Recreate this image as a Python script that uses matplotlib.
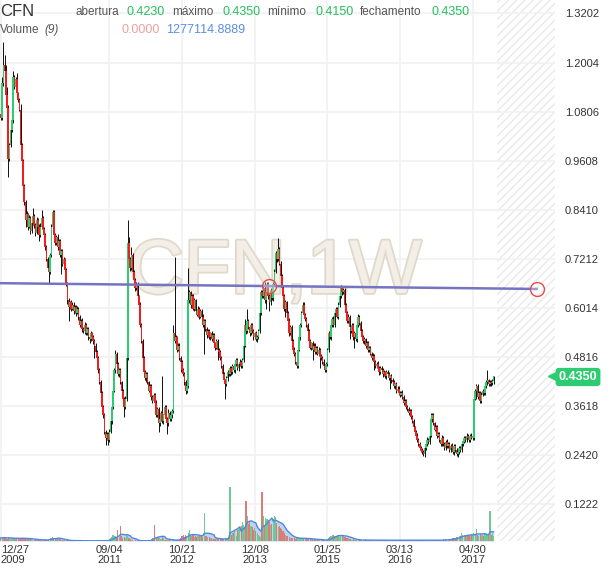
import numpy as np
import pandas as pd
import matplotlib
matplotlib.use('Agg')
import matplotlib.pyplot as plt
import matplotlib.patheffects as pe

plt.rcParams['font.family'] = ['Liberation Sans', 'DejaVu Sans']
plt.rcParams['hatch.color'] = '#e9e9e9'
plt.rcParams['hatch.linewidth'] = 1.0

# weekly bars from 2009-12-27, prices in thousandths
first_open = 1075
closes = [
    1065, 1150, 1195, 1180, 1120, 1090, 965, 1000, 1035, 1060, 1165, 1140, 1160, 1125, 1110, 1085, 1000, 960, 900, 860,
    815, 830, 800, 820, 790, 810, 825, 805, 785, 815, 800, 780, 800, 820, 795, 780, 750, 720, 700, 690,
    730, 800, 835, 780, 760, 775, 750, 765, 730, 740, 710, 720, 695, 660, 620, 605, 615, 600, 610, 595,
    605, 590, 600, 580, 560, 570, 550, 545, 560, 540, 550, 530, 525, 540, 530, 520, 510, 495, 480, 450,
    420, 395, 360, 340, 300, 285, 295, 280, 300, 325, 360, 400, 450, 490, 465, 440, 450, 420, 400, 380,
    360, 380, 480, 760, 720, 700, 730, 690, 670, 650, 660, 630, 610, 560, 520, 480, 445, 430, 440, 420,
    400, 410, 385, 375, 390, 370, 340, 355, 320, 330, 345, 325, 340, 360, 330, 320, 345, 330, 340, 350,
    540, 520, 530, 500, 510, 480, 470, 450, 440, 420, 400, 410, 620, 640, 610, 630, 600, 620, 595, 585,
    600, 580, 595, 580, 560, 570, 550, 535, 545, 530, 540, 525, 535, 515, 505, 520, 500, 495, 480, 460,
    440, 425, 415, 430, 445, 440, 455, 445, 460, 450, 465, 475, 455, 465, 470, 460, 475, 510, 560, 545,
    570, 555, 540, 560, 545, 530, 540, 525, 530, 545, 590, 640, 630, 650, 620, 640, 660, 630, 615, 645,
    625, 660, 690, 735, 720, 745, 710, 680, 650, 630, 600, 615, 590, 570, 540, 555, 520, 500, 490, 470,
    460, 500, 530, 560, 590, 610, 585, 575, 560, 545, 520, 505, 515, 500, 510, 495, 505, 490, 500, 485,
    480, 470, 460, 450, 465, 500, 540, 530, 560, 575, 560, 590, 600, 580, 610, 630, 650, 640, 645, 610,
    590, 570, 580, 555, 545, 560, 530, 540, 525, 560, 580, 565, 545, 530, 520, 525, 510, 515, 500, 505,
    490, 480, 485, 470, 460, 465, 455, 445, 455, 450, 440, 445, 435, 445, 440, 430, 435, 425, 420, 410,
    415, 400, 405, 395, 390, 395, 385, 370, 375, 360, 355, 345, 350, 335, 325, 310, 300, 290, 280, 270,
    260, 255, 250, 245, 260, 270, 280, 275, 290, 330, 340, 320, 305, 310, 290, 295, 280, 270, 285, 270,
    260, 275, 265, 270, 255, 265, 260, 250, 265, 255, 245, 250, 260, 255, 270, 275, 285, 280, 290, 285,
    280, 290, 285, 285, 380, 400, 410, 385, 395, 375, 390, 400, 395, 410, 420, 425, 415, 420, 418, 423,
    435,
]
# upper / lower shadow beyond the body, thousandths
wick_up = [
    20, 15, 55, 25, 15, 20, 6, 4, 6, 5, 15, 5, 6, 15, 4, 5, 15, 5, 4, 5,
    5, 8, 4, 8, 5, 8, 20, 5, 4, 8, 5, 6, 8, 20, 5, 4, 5, 6, 5, 4,
    5, 6, 5, 5, 4, 5, 6, 5, 4, 5, 6, 5, 4, 5, 6, 5, 4, 5, 6, 5,
    4, 5, 6, 5, 4, 5, 6, 5, 8, 5, 4, 5, 6, 5, 4, 5, 6, 5, 4, 5,
    6, 5, 4, 5, 6, 5, 4, 5, 6, 5, 4, 5, 6, 10, 4, 5, 6, 5, 4, 5,
    5, 6, 5, 56, 15, 5, 20, 5, 4, 5, 6, 5, 4, 5, 6, 5, 4, 5, 6, 5,
    4, 5, 6, 5, 4, 5, 6, 5, 4, 5, 6, 90, 4, 5, 6, 5, 10, 5, 4, 5,
    20, 187, 5, 4, 5, 6, 5, 4, 5, 6, 5, 4, 80, 5, 4, 5, 6, 5, 4, 5,
    6, 5, 4, 5, 6, 5, 4, 5, 6, 5, 4, 5, 6, 5, 4, 5, 6, 5, 4, 5,
    6, 5, 4, 5, 6, 5, 4, 5, 6, 5, 10, 5, 4, 5, 6, 5, 4, 5, 15, 5,
    30, 5, 4, 5, 6, 5, 4, 5, 6, 5, 4, 5, 6, 5, 15, 5, 4, 5, 6, 5,
    4, 5, 6, 5, 4, 27, 6, 5, 4, 5, 6, 5, 4, 5, 6, 5, 4, 5, 6, 5,
    4, 5, 6, 5, 4, 5, 6, 5, 4, 5, 6, 5, 4, 5, 6, 5, 4, 5, 6, 5,
    4, 5, 6, 5, 4, 5, 6, 5, 4, 5, 6, 5, 4, 5, 6, 5, 8, 5, 6, 5,
    4, 5, 6, 5, 4, 5, 6, 5, 4, 20, 6, 5, 4, 5, 6, 5, 4, 5, 6, 5,
    4, 5, 6, 5, 4, 5, 6, 5, 4, 5, 6, 5, 4, 5, 6, 5, 4, 5, 6, 5,
    4, 5, 6, 5, 4, 5, 6, 5, 4, 5, 6, 5, 4, 5, 6, 5, 4, 5, 6, 5,
    4, 5, 6, 5, 4, 5, 6, 5, 4, 15, 5, 5, 4, 5, 6, 5, 4, 5, 6, 5,
    4, 5, 6, 5, 4, 5, 6, 5, 4, 5, 6, 5, 4, 5, 6, 5, 4, 5, 6, 5,
    4, 5, 6, 5, 5, 5, 5, 5, 4, 5, 6, 5, 4, 5, 6, 25, 4, 5, 6, 5,
    0,
]
wick_dn = [
    5, 4, 6, 8, 5, 4, 45, 6, 5, 4, 6, 5, 4, 6, 5, 4, 6, 5, 8, 8,
    15, 5, 8, 4, 8, 6, 5, 8, 8, 4, 8, 15, 5, 6, 8, 15, 8, 5, 4, 30,
    5, 4, 6, 5, 4, 6, 8, 5, 4, 45, 6, 5, 8, 4, 8, 35, 5, 6, 4, 8,
    5, 8, 4, 8, 6, 5, 8, 4, 6, 5, 4, 6, 8, 5, 4, 6, 30, 5, 4, 6,
    5, 4, 6, 8, 5, 17, 6, 12, 5, 4, 6, 5, 4, 6, 5, 4, 6, 5, 4, 6,
    25, 4, 6, 5, 4, 8, 6, 5, 4, 6, 5, 4, 6, 5, 4, 6, 5, 4, 8, 5,
    4, 6, 8, 5, 4, 6, 5, 4, 20, 6, 5, 4, 6, 5, 4, 25, 6, 5, 4, 6,
    5, 4, 6, 5, 4, 6, 25, 5, 4, 6, 8, 5, 4, 6, 8, 5, 4, 6, 5, 4,
    6, 5, 4, 6, 5, 70, 4, 6, 5, 4, 6, 5, 4, 6, 5, 4, 25, 6, 5, 4,
    6, 5, 35, 4, 6, 5, 4, 6, 5, 4, 6, 5, 4, 6, 5, 4, 6, 5, 4, 6,
    5, 4, 6, 5, 4, 6, 5, 4, 6, 5, 4, 6, 5, 4, 6, 20, 4, 6, 20, 5,
    4, 6, 5, 4, 6, 5, 4, 6, 5, 4, 6, 20, 5, 4, 6, 5, 4, 6, 5, 4,
    6, 5, 4, 6, 5, 4, 6, 5, 4, 6, 5, 4, 6, 25, 4, 6, 5, 4, 6, 30,
    5, 4, 6, 5, 4, 6, 5, 4, 6, 5, 4, 6, 5, 4, 6, 5, 4, 6, 5, 4,
    6, 5, 4, 30, 5, 4, 6, 25, 4, 6, 5, 4, 6, 5, 4, 6, 5, 4, 6, 5,
    4, 6, 5, 20, 6, 5, 4, 6, 5, 4, 6, 5, 4, 6, 5, 4, 25, 6, 5, 4,
    6, 5, 4, 6, 5, 4, 6, 5, 4, 6, 5, 4, 6, 5, 4, 6, 5, 4, 6, 5,
    4, 6, 5, 4, 6, 5, 4, 6, 5, 4, 6, 5, 4, 6, 5, 4, 6, 5, 4, 6,
    5, 4, 6, 5, 4, 6, 5, 4, 6, 5, 4, 6, 5, 4, 6, 5, 4, 6, 5, 4,
    6, 5, 4, 6, 5, 4, 20, 5, 4, 6, 5, 4, 6, 5, 4, 6, 5, 4, 6, 5,
    8,
]
# relative weekly volume
volume = [
    6, 5, 8, 6, 5, 4, 7, 5, 4, 5, 6, 5, 4, 5, 6, 4, 5, 6, 5, 4,
    4, 5, 3, 4, 5, 3, 2, 2, 3, 2, 2, 1, 2, 2, 1, 2, 3, 2, 2, 4,
    5, 6, 8, 5, 4, 5, 6, 4, 3, 2, 2, 1, 1, 1, 1, 1, 0, 1, 1, 0,
    1, 0, 1, 1, 0, 1, 0, 0, 1, 0, 1, 0, 0, 1, 0, 1, 0, 0, 1, 0,
    1, 0, 1, 0, 1, 0, 2, 1, 3, 6, 8, 12, 10, 9, 7, 20, 8, 28, 10, 6,
    8, 5, 12, 9, 5, 3, 1, 1, 0, 1, 0, 1, 0, 1, 0, 1, 0, 1, 0, 1,
    0, 1, 3, 6, 5, 30, 8, 7, 6, 5, 4, 7, 5, 2, 1, 2, 1, 2, 1, 2,
    3, 2, 2, 1, 2, 3, 6, 9, 11, 8, 12, 10, 14, 20, 11, 9, 13, 8, 10, 7,
    9, 11, 10, 12, 8, 52, 9, 10, 7, 8, 6, 5, 4, 3, 4, 5, 3, 4, 5, 3,
    4, 3, 5, 4, 6, 8, 100, 12, 14, 15, 18, 10, 20, 22, 25, 28, 35, 30, 26, 74,
    46, 32, 35, 28, 25, 20, 24, 18, 15, 12, 10, 8, 90, 46, 30, 42, 40, 38, 35, 30,
    32, 40, 46, 45, 33, 25, 28, 24, 22, 18, 14, 12, 10, 9, 8, 6, 5, 6, 5, 4,
    5, 6, 5, 4, 6, 5, 4, 5, 3, 4, 5, 3, 4, 3, 2, 3, 2, 3, 2, 2,
    2, 1, 2, 1, 2, 3, 5, 8, 10, 12, 11, 10, 9, 12, 10, 8, 9, 11, 10, 7,
    8, 6, 5, 4, 3, 2, 3, 2, 2, 1, 2, 2, 1, 2, 1, 2, 3, 1, 2, 1,
    2, 1, 2, 1, 2, 2, 1, 2, 1, 2, 1, 2, 1, 2, 1, 1, 2, 1, 2, 1,
    2, 1, 2, 1, 1, 2, 1, 2, 1, 1, 2, 1, 1, 2, 1, 2, 1, 1, 2, 1,
    1, 2, 1, 1, 2, 1, 1, 2, 1, 1, 2, 1, 1, 2, 1, 1, 2, 1, 2, 3,
    2, 3, 2, 3, 4, 3, 4, 5, 6, 5, 7, 8, 9, 10, 14, 11, 12, 10, 9, 11,
    12, 10, 13, 12, 15, 11, 22, 12, 10, 13, 11, 12, 10, 14, 12, 11, 13, 56, 12, 14,
    10,
]

price_ticks = [1.3202, 1.2004, 1.0806, 0.9608, 0.8410, 0.7212, 0.6014, 0.4816, 0.3618, 0.2420, 0.1222]
tick_dates = ['2009-12-27', '2011-09-04', '2012-10-21', '2013-12-08', '2015-01-25', '2016-03-13', '2017-04-30']
tick_labels = ['12/27\n2009', '09/04\n2011', '10/21\n2012', '12/08\n2013', '01/25\n2015', '03/13\n2016', '04/30\n2017']

# trend line anchors (bar index, price)
trend_bars = [218, 435]
trend_prices = [0.655, 0.648]

c = np.array(closes) / 1000
o = np.r_[first_open / 1000, c[:-1]]
hi = np.maximum(o, c) + np.array(wick_up) / 1000
lo = np.minimum(o, c) - np.array(wick_dn) / 1000
n = len(c)
x = np.arange(n)
dates = pd.date_range('2009-12-27', periods=n, freq='W-SUN')
tick_idx = [dates.get_loc(pd.Timestamp(d)) for d in tick_dates]

GREEN = '#2ecc71'
RED = '#f21d1d'
up = c >= o

fig = plt.figure(figsize=(6.1, 5.68), dpi=100)
rect = [0, 27 / 568, 555 / 610, 541 / 568]
ax = fig.add_axes(rect)
xl = (-0.7, 449.8)
ax.set_xlim(*xl)
ax.set_ylim(0.033, 1.353)
for s in ax.spines.values():
    s.set_visible(False)

ax.set_yticks(price_ticks)
ax.set_yticklabels(['%.4f' % p for p in price_ticks])
ax.yaxis.tick_right()
ax.set_xticks(tick_idx)
ax.set_xticklabels(tick_labels, linespacing=1.0)
ax.get_xticklabels()[0].set_ha('left')
ax.tick_params(length=0, labelsize=8, labelcolor='#333333')
ax.tick_params(axis='y', pad=7)
ax.tick_params(axis='x', pad=3)
ax.grid(True, color='#f1f1f1', lw=1.2, zorder=0)
ax.set_axisbelow(True)

# future area
ax.axvspan(402.5, xl[1], facecolor='white', edgecolor='#e9e9e9', hatch='////', lw=0, zorder=0.5)

# watermark
ax.text(222.6, 0.638, 'CFN,1W', fontsize=55, ha='center', va='baseline',
        color='#f3efe8', zorder=1,
        path_effects=[pe.withStroke(linewidth=2.5, foreground='#e0d8c8')])

# candles
ax.vlines(x, lo, hi, color='black', lw=0.65, zorder=2)
body = np.maximum(np.abs(c - o), 0.003)
ax.bar(x, body, bottom=np.minimum(o, c), width=1.25,
       color=np.where(up, GREEN, RED), lw=0, zorder=3)

# trend line with anchors
slope = (trend_prices[1] - trend_prices[0]) / (trend_bars[1] - trend_bars[0])
tx = np.array([xl[0], trend_bars[1]])
ax.plot(tx, trend_prices[0] + slope * (tx - trend_bars[0]), color='#7474c2', lw=1.8, zorder=5)
ax.plot(trend_bars, trend_prices, 'o', mfc=(1, 1, 1, 0.3), mec='#e84a4a', ms=10, mew=1, zorder=6)

# volume overlay
axv = fig.add_axes(rect)
axv.set_xlim(*xl)
axv.set_ylim(0, 1000)
axv.axis('off')
axv.patch.set_visible(False)
vol = np.array(volume, dtype=float)
ma = pd.Series(vol).rolling(9, min_periods=1).mean()
axv.fill_between(x, 0, ma, color='#aac6f0', alpha=0.75, lw=0, zorder=1)
axv.plot(x, ma, color='#4d88e0', lw=1, zorder=3)
axv.bar(x, vol, width=0.9, color=np.where(up, '#70c98f', '#e07a7a'), lw=0, zorder=2)

# last price tag
ax.plot([447.3], [c[-1]], marker='<', color=GREEN, ms=6, clip_on=False, zorder=7)
fig.text(578 / 610, 1 - 377 / 568, '%.4f' % c[-1], ha='center', va='center', color='white',
         fontweight='bold', fontsize=9,
         bbox=dict(boxstyle='round,pad=0.25', fc=GREEN, ec='none'))


def ftxt(xp, yp, s, **kw):
    fig.text(xp / 610, 1 - yp / 568, s, va='center', ha='left', **kw)


VAL = '#25c05c'
LAB = '#555555'
ftxt(0, 12, 'CFN', fontsize=12, color='#333333')
ftxt(75, 12, 'abertura', fontsize=8.5, color=LAB)
ftxt(126, 12, '%.4f' % o[-1], fontsize=9, color=VAL)
ftxt(172, 12, 'máximo', fontsize=8.5, color=LAB)
ftxt(222, 12, '%.4f' % hi[-1], fontsize=9, color=VAL)
ftxt(267, 12, 'mínimo', fontsize=8.5, color=LAB)
ftxt(316, 12, '%.4f' % lo[-1], fontsize=9, color=VAL)
ftxt(360, 12, 'fechamento', fontsize=8.5, color=LAB)
ftxt(432, 12, '%.4f' % c[-1], fontsize=9, color=VAL)
ftxt(0, 30, 'Volume', fontsize=8.5, color=LAB)
ftxt(44, 30, '(9)', fontsize=8.5, color=LAB, style='italic')
ftxt(121, 30, '0.0000', fontsize=9, color='#eea0a0')
ftxt(166, 30, '1277114.8889', fontsize=9, color='#5a8ee8')

fig.savefig('out.png', dpi=100)
